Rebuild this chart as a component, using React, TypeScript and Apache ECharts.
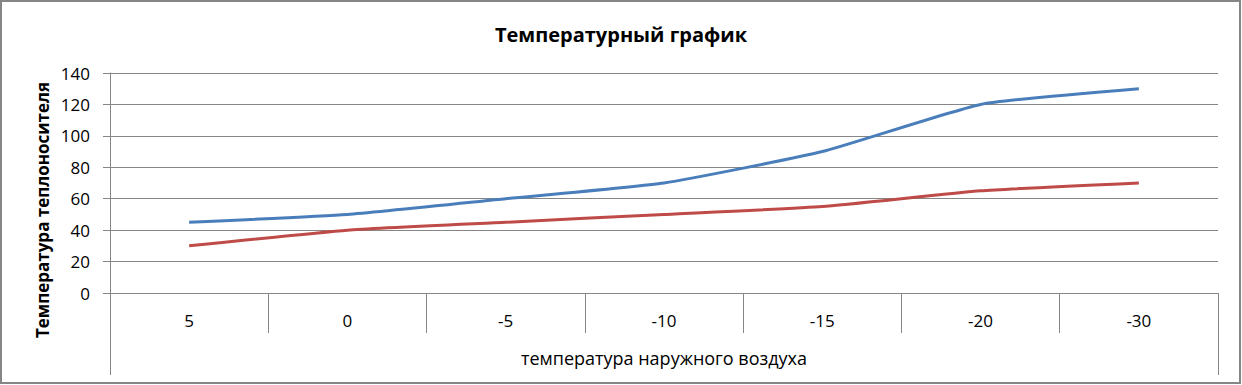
import React, { useEffect, useRef } from "react";
import * as echarts from "echarts";

const categories = ["5", "0", "-5", "-10", "-15", "-20", "-30"];
const supplyTemp = [45, 50, 60, 70, 90, 120, 130];
const returnTemp = [30, 40, 45, 50, 55, 65, 70];
const titleText = "Температурный график";
const yAxisTitle = "Температура теплоносителя";
const xAxisTitle = "температура наружного воздуха";

export default function App() {
  const ref = useRef<HTMLDivElement>(null);
  useEffect(() => {
    if (!ref.current) return;
    const chart = echarts.init(ref.current, undefined, { renderer: "svg" });
    const gray = "#868686";
    const font = "'Open Sans', 'Noto Sans', sans-serif";
    chart.setOption({
      animation: false,
      backgroundColor: "#ffffff",
      title: {
        text: titleText,
        left: "center",
        top: 19,
        textStyle: { fontFamily: font, fontSize: 20, fontWeight: "bold", color: "#000" },
      },
      grid: { left: 110, right: 24, top: 73, bottom: 92 },
      xAxis: [
        {
          type: "category",
          data: categories,
          boundaryGap: true,
          position: "bottom",
          axisLine: { show: true, lineStyle: { color: gray, width: 1 } },
          axisTick: { show: true, interval: 0, length: 40, lineStyle: { color: gray } },
          axisLabel: { interval: 0, margin: 19, fontFamily: font, fontSize: 17, color: "#000" },
        },
        {
          type: "category",
          data: [xAxisTitle],
          boundaryGap: true,
          position: "bottom",
          axisLine: { show: false },
          axisTick: { show: true, length: 82, lineStyle: { color: gray } },
          axisLabel: { margin: 56, fontFamily: font, fontSize: 18, color: "#000" },
        },
      ],
      yAxis: {
        type: "value",
        min: 0,
        max: 140,
        interval: 20,
        axisLine: { show: true, lineStyle: { color: gray, width: 1 } },
        axisTick: { show: true, length: 7, lineStyle: { color: gray } },
        splitLine: { show: true, lineStyle: { color: gray, width: 1 } },
        axisLabel: { margin: 20, fontFamily: font, fontSize: 17, color: "#000" },
      },
      graphic: [
        {
          type: "rect",
          shape: { x: 1, y: 1, width: 1239, height: 382 },
          style: { fill: "none", stroke: gray, lineWidth: 2 },
          silent: true,
        },
        {
          type: "text",
          x: 42,
          y: 210,
          rotation: Math.PI / 2,
          style: {
            text: yAxisTitle,
            fontFamily: font,
            fontSize: 17,
            fontWeight: "bold",
            fill: "#000",
            align: "center",
            verticalAlign: "middle",
          },
        },
      ],
      series: [
        {
          type: "line",
          data: supplyTemp,
          xAxisIndex: 0,
          smooth: 0.15,
          showSymbol: false,
          lineStyle: { color: "#4A7EBB", width: 3 },
          itemStyle: { color: "#4A7EBB" },
        },
        {
          type: "line",
          data: returnTemp,
          xAxisIndex: 0,
          smooth: 0.15,
          showSymbol: false,
          lineStyle: { color: "#BE4B48", width: 3 },
          itemStyle: { color: "#BE4B48" },
        },
      ],
    });
    return () => chart.dispose();
  }, []);
  return (
    <div
      ref={ref}
      style={{ position: "fixed", left: 0, top: 0, width: 1242, height: 385 }}
    />
  );
}
